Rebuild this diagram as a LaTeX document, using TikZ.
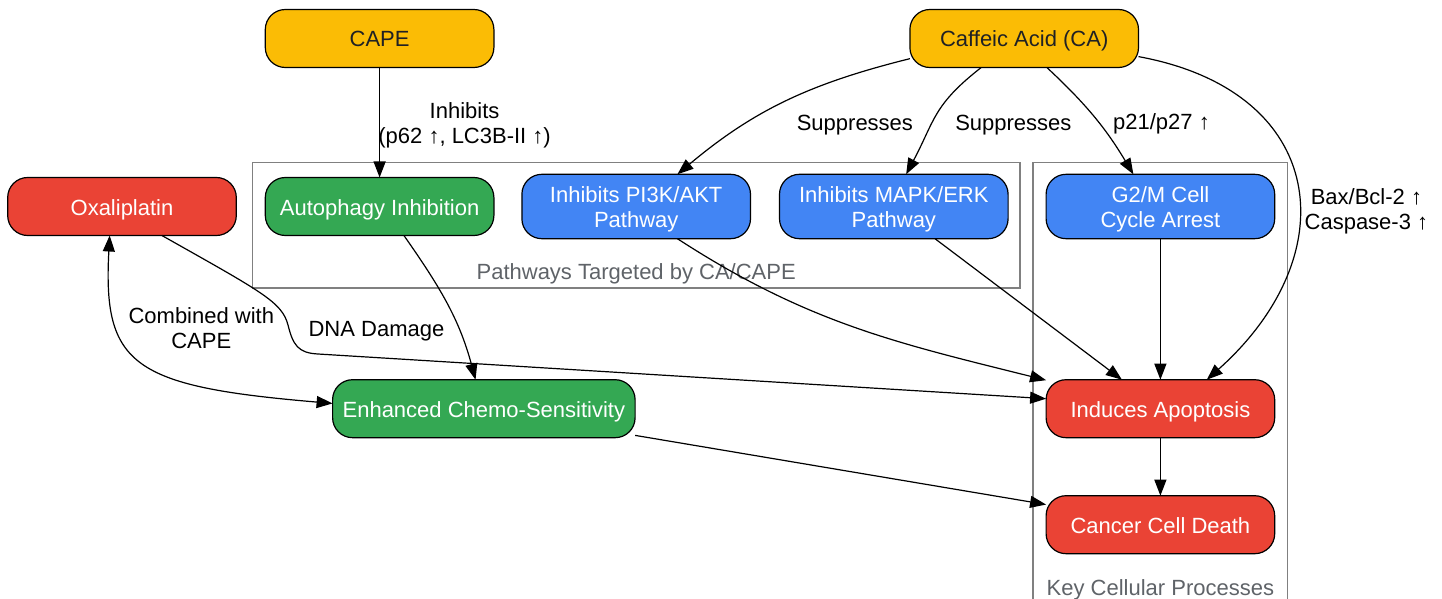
\documentclass[tikz,border=0pt]{standalone}
\usepackage{fontspec}
\setmainfont{Liberation Sans}
\usepackage{tikz}
\usetikzlibrary{positioning, calc, arrows.meta}
\definecolor{gYellow}{RGB}{251,188,5}
\definecolor{gRed}{RGB}{234,67,53}
\definecolor{gGreen}{RGB}{52,168,83}
\definecolor{gBlue}{RGB}{66,133,244}
\definecolor{gInk}{RGB}{32,33,36}
\definecolor{gGrey}{RGB}{95,99,104}
\definecolor{gFrame}{RGB}{128,128,128}

\begin{document}
\begin{tikzpicture}[
    x=0.5pt, y=0.5pt,
    font=\fontsize{11}{12.5}\selectfont,
    proc/.style={draw=black, line width=0.6pt, rounded corners=10pt, minimum width=114.3pt, minimum height=29pt, inner xsep=4pt, inner ysep=4.6pt, outer sep=0pt, text height=9.5pt, text depth=1pt, align=center, text=white},
    drug/.style={proc, fill=gYellow, text=gInk},
    two/.style={text height=22pt},
    arr/.style={-{Triangle[length=8pt,width=6pt]}, line width=0.6pt},
    biarr/.style={{Triangle[length=8pt,width=6pt]}-{Triangle[length=8pt,width=6pt]}, line width=0.6pt},
    elabel/.style={align=center, inner sep=0pt, text height=9.5pt, text depth=1pt, text=black},
    cluster/.style={draw=gFrame, line width=0.75pt},
    clabel/.style={text=gGrey, inner sep=0pt, text height=9.5pt, text depth=1pt},
    node distance=14.5pt
  ]
  \useasboundingbox (0,0) rectangle (1442,-599);
  \node[proc, fill=gRed] (oxa) at (122,-206.5) {Oxaliplatin};
  \node[proc, fill=gGreen, right=of oxa] (auto) {Autophagy Inhibition};
  \node[proc, two, fill=gBlue, right=14pt of auto] (pik) {Inhibits PI3K/AKT\\Pathway};
  \node[proc, two, fill=gBlue, right=of pik] (mapk) {Inhibits MAPK/ERK\\Pathway};
  \node[proc, two, fill=gBlue, right=19pt of mapk] (g2m) {G2/M Cell\\Cycle Arrest};
  \node[drug, above=55pt of auto] (cape) {CAPE};
  \node[drug, right=208pt of cape] (ca) {Caffeic Acid (CA)};
  \node[proc, fill=gRed, below=70.5pt of g2m] (apo) {Induces Apoptosis};
  \node[proc, fill=gRed, below=29pt of apo] (death) {Cancer Cell Death};
  \node[proc, fill=gGreen, minimum width=151.25pt, left=205.5pt of apo] (enh) {Enhanced Chemo-Sensitivity};

  \draw[cluster] ($(auto.west |- pik.north)+(-13,12)$) rectangle ($(mapk.east |- pik.south)+(12,-49.5)$);
  \node[clabel] (pathlbl) at ($(pik.south)+(0,-32.5)$) {Pathways Targeted by CA/CAPE};
  \draw[cluster] ($(g2m.north west)+(-13,12)$) rectangle ($(g2m.east |- death.south)+(13,-70)$);
  \node[clabel] (keylbl) at ($(death.south)+(0,-33)$) {Key Cellular Processes};

  \draw[arr] (cape) -- (auto) node[elabel, two, midway, xshift=42.5pt] {Inhibits\\(p62 ↑, LC3B-II ↑)};
  \draw[arr] (ca.190) to[out=194, in=40] node[elabel, xshift=34.5pt, yshift=-10.5pt] {Suppresses} (pik.38);
  \draw[arr] (ca.214) to[out=218, in=62, looseness=1.2] node[elabel, xshift=38.5pt, yshift=-3.5pt] {Suppresses} (mapk.69);
  \draw[arr] (ca.308) to[bend left=8] node[elabel, xshift=33.5pt, yshift=-2pt] {p21/p27 ↑} (g2m.130);
  \draw[arr] (ca.-9) .. controls +(190,-35) and +(140,125) .. (apo.32) node[elabel, two, pos=0.5, xshift=35pt, yshift=-12pt] {Bax/Bcl-2 ↑\\Caspase-3 ↑};
  \draw[arr] (oxa.-36) .. controls (262,-292) and (282,-302) .. (288,-325) node[elabel, anchor=west, xshift=10pt, yshift=-1.5pt] {DNA Damage} .. controls (293,-345) and (298,-353) .. (318,-354) -- (apo.175);
  \draw[biarr] (enh.178) .. controls +(-200,17) and +(-7,-130) .. (oxa.247) node[elabel, two, pos=0.5, xshift=28.9pt, yshift=17.2pt] {Combined with\\CAPE};
  \draw[arr] (auto.-50) to[out=-55, in=105] (enh.106);
  \draw[arr] (pik.-38) to[out=-33, in=166] (apo.166);
  \draw[arr] (mapk.-38) -- (apo.143);
  \draw[arr] (g2m) -- (apo);
  \draw[arr] (apo) -- (death);
  \draw[arr] (enh.-10) -- (death.170);
\end{tikzpicture}
\end{document}
